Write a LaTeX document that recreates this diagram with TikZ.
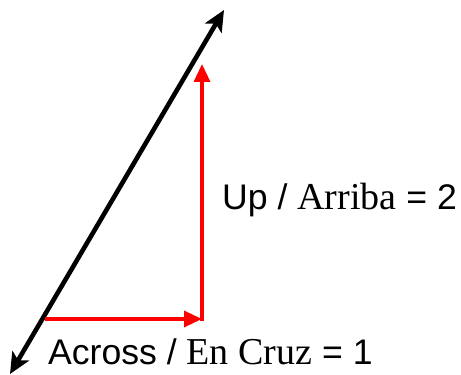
\documentclass[tikz,border=0pt]{standalone}
\usepackage{fontspec}
\setmainfont{Liberation Serif}
\setsansfont{Liberation Sans}
\usetikzlibrary{arrows.meta}
\definecolor{PureRed}{rgb}{1, 0, 0}

\begin{document}
\begin{tikzpicture}[x=1pt, y=1pt,
    recta/.style={line width=4.6pt, {Stealth[length=21pt, width=19pt, inset=5pt]}-{Stealth[length=21pt, width=19pt, inset=5pt]}},
    paso/.style={PureRed, line width=3.4pt, -{Triangle[length=18pt, width=16pt]}},
    rotulo/.style={anchor=base west, inner sep=0pt, font=\sffamily\fontsize{35.6}{42}\selectfont}]

\useasboundingbox (0,0) rectangle (461,375);

% puntos de la recta y del triangulo
\coordinate (abajo) at (10,1);
\coordinate (arriba) at (224,365);
\coordinate (inicio) at (45,56);
\coordinate (esquina) at (202,56);
\coordinate (cima) at (202,311);

% recta
\draw[recta] (abajo) -- (arriba);

% pasos: horizontal y vertical
\draw[paso] (inicio) -- (esquina);
\draw[paso, shorten <=-1.7pt] (esquina) -- (cima);

% rotulos
\node[rotulo] (subida) at (222,165)
    {Up / {\rmfamily\fontsize{38}{44}\selectfont Arriba} = 2};
\node[rotulo] (avance) at (48,10)
    {Across / {\rmfamily\fontsize{38}{44}\selectfont En Cruz} = 1};

\end{tikzpicture}
\end{document}
